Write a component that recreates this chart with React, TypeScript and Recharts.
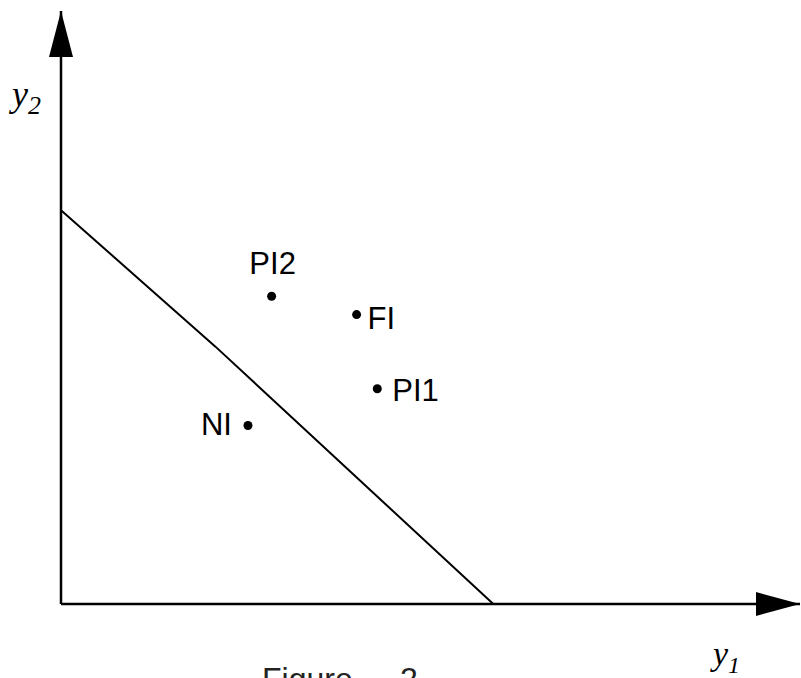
import {
  ComposedChart,
  Line,
  Scatter,
  XAxis,
  YAxis,
  ReferenceDot,
  ReferenceLine,
  Customized,
} from "recharts";

// frontier line (y1, y2)
const frontierY1 = [0, 2.09, 5.85];
const frontierY2 = [6.64, 4.34, 0];

// labelled outcomes
const pointNames = ["PI2", "FI", "PI1", "NI"];
const pointY1 = [2.85, 4.0, 4.28, 2.53];
const pointY2 = [5.19, 4.88, 3.63, 3.01];

const axisMax = 10;

const frontier = frontierY1.map((x, i) => ({ x, y: frontierY2[i] }));
const points = pointNames.map((name, i) => ({ name, x: pointY1[i], y: pointY2[i] }));

// where each label sits relative to its dot
const labelPlace: Record<string, { dx: number; dy: number; anchor: string }> = {
  PI2: { dx: 1, dy: -22, anchor: "middle" },
  FI: { dx: 11, dy: 14, anchor: "start" },
  PI1: { dx: 15, dy: 12, anchor: "start" },
  NI: { dx: -16, dy: 9, anchor: "end" },
};

const labelFont = "'Liberation Sans', Arial, sans-serif";
const mathFont = "'Liberation Serif', 'DejaVu Serif', serif";

function PointShape(props: any) {
  const { cx, cy, payload } = props;
  const p = labelPlace[payload.name];
  return (
    <g>
      <circle cx={cx} cy={cy} r={4.5} fill="#000" />
      <text
        x={cx + p.dx}
        y={cy + p.dy}
        textAnchor={p.anchor as any}
        fontFamily={labelFont}
        fontSize={31}
        fill="#000"
      >
        {payload.name}
      </text>
    </g>
  );
}

function ArrowRight(props: any) {
  const { cx, cy } = props;
  return <polygon points={`${cx},${cy} ${cx - 44},${cy - 12} ${cx - 44},${cy + 12}`} fill="#000" />;
}

function ArrowUp(props: any) {
  const { cx, cy } = props;
  return <polygon points={`${cx},${cy} ${cx - 12},${cy + 46} ${cx + 12},${cy + 46}`} fill="#000" />;
}

function Captions() {
  return (
    <g>
      <text x={12} y={106} fontFamily={mathFont} fontStyle="italic" fontSize={36} fill="#000">
        y
        <tspan fontSize={26} dy={8}>2</tspan>
      </text>
      <text x={713} y={665} fontFamily={mathFont} fontStyle="italic" fontSize={34} fill="#000">
        y
        <tspan fontSize={24} dy={8}>1</tspan>
      </text>
      <text y={690} fontFamily={labelFont} fontSize={32} fill="#222">
        <tspan x={262}>Figure</tspan>
        <tspan x={400}>2</tspan>
      </text>
    </g>
  );
}

export default function App() {
  return (
    <div
      style={{
        position: "absolute",
        left: 0,
        top: 0,
        width: 801,
        height: 678,
        overflow: "hidden",
        background: "#fff",
      }}
    >
      <ComposedChart
        width={801}
        height={678}
        margin={{ top: 11, right: 1, left: 61, bottom: 74 }}
      >
        <XAxis type="number" dataKey="x" domain={[0, axisMax]} hide />
        <YAxis type="number" dataKey="y" domain={[0, axisMax]} hide />
        <ReferenceLine x={0} stroke="#000" strokeWidth={2.5} ifOverflow="visible" />
        <ReferenceLine y={0} stroke="#000" strokeWidth={2.5} ifOverflow="visible" />
        <Line
          data={frontier}
          dataKey="y"
          type="linear"
          stroke="#000"
          strokeWidth={2}
          dot={false}
          activeDot={false}
          isAnimationActive={false}
        />
        <Scatter data={points} dataKey="y" shape={PointShape} isAnimationActive={false} />
        <ReferenceDot x={axisMax} y={0} ifOverflow="visible" shape={ArrowRight} />
        <ReferenceDot x={0} y={axisMax} ifOverflow="visible" shape={ArrowUp} />
        <Customized component={Captions} />
      </ComposedChart>
    </div>
  );
}
